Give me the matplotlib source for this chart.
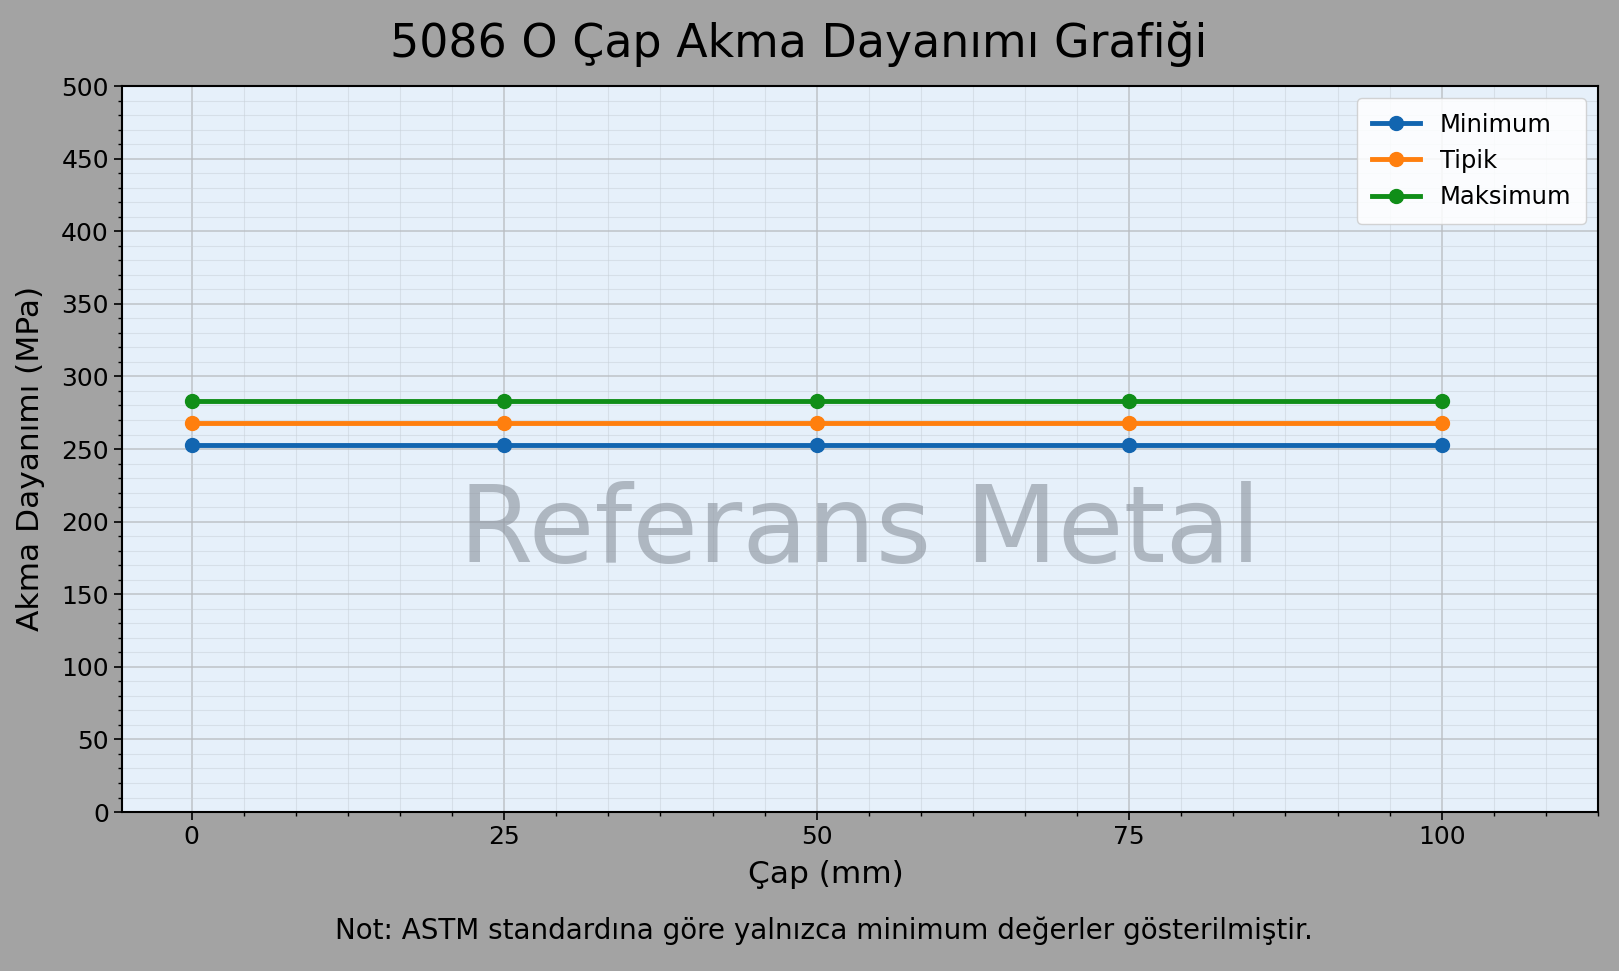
import matplotlib.pyplot as plt
import numpy as np
from matplotlib.ticker import MultipleLocator, FixedLocator

# data
cap = [0, 25, 50, 75, 100]
minimum = [253, 253, 253, 253, 253]
tipik = [268, 268, 268, 268, 268]
maksimum = [283, 283, 283, 283, 283]

fig = plt.figure(figsize=(16.19, 9.71), dpi=100, facecolor='#a3a3a3')
ax = fig.add_axes([0.0754, 0.1637, 0.9116, 0.7477])
ax.set_facecolor('#e6f0fa')

ax.plot(cap, minimum, '-o', color='#1265b0', lw=3.5, ms=10, label='Minimum', zorder=3)
ax.plot(cap, tipik, '-o', color='#ff7f0e', lw=3.5, ms=10, label='Tipik', zorder=3)
ax.plot(cap, maksimum, '-o', color='#108e18', lw=3.5, ms=10, label='Maksimum', zorder=3)

ax.set_xlim(-5.57, 112.5)
ax.set_ylim(0, 500)
ax.set_xticks(cap)
ax.xaxis.set_minor_locator(FixedLocator(np.arange(25 / 6, 112.6, 25 / 6)))
ax.yaxis.set_major_locator(MultipleLocator(50))
ax.yaxis.set_minor_locator(MultipleLocator(10))
ax.tick_params(axis='both', which='major', labelsize=18, length=6, width=1.2)
ax.tick_params(axis='both', which='minor', length=3, width=1)
ax.grid(True, which='major', color='#b8bcc0', lw=1.2, alpha=0.8)
ax.grid(True, which='minor', color='#c8d0d8', lw=0.8, alpha=0.5)
ax.set_axisbelow(True)
for s in ax.spines.values():
    s.set_linewidth(1.5)

ax.set_xlabel('Çap (mm)', fontsize=22.5)
ax.xaxis.set_label_coords(0.477, -0.066)
ax.set_ylabel('Akma Dayanımı (MPa)', fontsize=22.5)
ax.yaxis.set_label_coords(-0.052, 0.487)
fig.text(0.493, 0.955, '5086 O Çap Akma Dayanımı Grafiği', fontsize=33,
         ha='center', va='center')

ax.text(0.5, 0.385, 'Referans Metal', transform=ax.transAxes, fontsize=77,
        color='#8a929c', alpha=0.6, ha='center', va='center', zorder=2)

leg = ax.legend(loc='upper right', fontsize=17.5, framealpha=0.85, borderpad=0.6)
fig.text(0.509, 0.041, 'Not: ASTM standardına göre yalnızca minimum değerler gösterilmiştir.',
         ha='center', va='center', fontsize=20)

fig.savefig('out.png', dpi=100, facecolor=fig.get_facecolor())
